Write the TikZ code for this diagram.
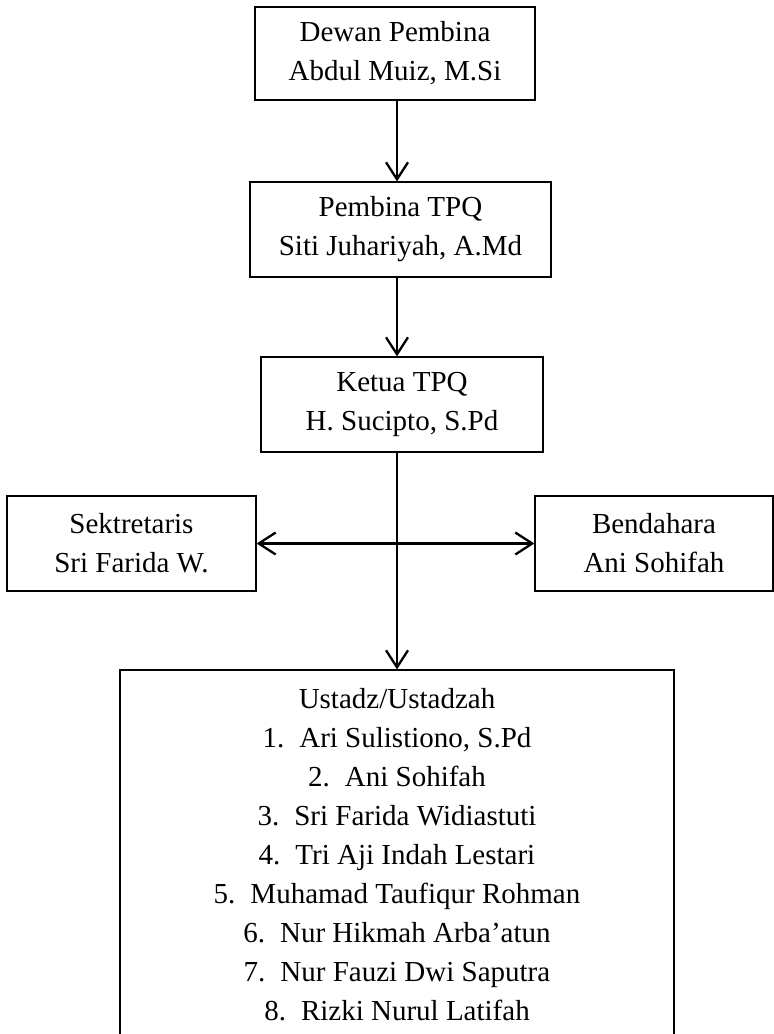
\documentclass[tikz,border=0pt]{standalone}
\usepackage{fontspec}
\setmainfont{Liberation Serif}
\usetikzlibrary{arrows.meta}
\begin{document}
\begin{tikzpicture}[x=1pt,y=-1pt,
  box/.style={draw, line width=1.2pt, inner sep=0pt, align=center,
    font=\fontsize{29}{39}\selectfont},
  barb/.tip={Straight Barb[length=17pt,width=22pt]},
  link/.style={line width=2.3pt, -barb}]
\useasboundingbox (0,0) rectangle (774,1034);
\clip (0,0) rectangle (774,1034);
\node[box, minimum width=280pt, minimum height=93pt] (dewan) at (395,53.5)
  {Dewan Pembina\\Abdul Muiz, M.Si};
\node[box, minimum width=301pt, minimum height=95pt] (pembina) at (400.5,229.5)
  {Pembina TPQ\\Siti Juhariyah, A.Md};
\node[box, minimum width=282pt, minimum height=95pt] (ketua) at (402,404.5)
  {Ketua TPQ\\H. Sucipto, S.Pd};
\node[box, minimum width=249pt, minimum height=95pt] (sek) at (131.5,543.5)
  {Sektretaris\\Sri Farida W.};
\node[box, minimum width=238pt, minimum height=95pt] (bend) at (654,543.5)
  {Bendahara\\Ani Sohifah};
\node[box, minimum width=554pt, minimum height=370pt] (ustadz) at (397,855)
  {Ustadz/Ustadzah\\
   1.\hspace{15pt}Ari Sulistiono, S.Pd\\
   2.\hspace{15pt}Ani Sohifah\\
   3.\hspace{15pt}Sri Farida Widiastuti\\
   4.\hspace{15pt}Tri Aji Indah Lestari\\
   5.\hspace{15pt}Muhamad Taufiqur Rohman\\
   6.\hspace{15pt}Nur Hikmah Arba’atun\\
   7.\hspace{15pt}Nur Fauzi Dwi Saputra\\
   8.\hspace{15pt}Rizki Nurul Latifah};
\coordinate (axis) at (397,0);
\draw[link] (dewan.south -| axis) -- (pembina.north -| axis);
\draw[link] (pembina.south -| axis) -- (ketua.north -| axis);
\draw[link] (ketua.south -| axis) -- (ustadz.north -| axis);
\draw[line width=2.3pt, barb-barb] (sek.east) -- (bend.west);
\end{tikzpicture}
\end{document}
